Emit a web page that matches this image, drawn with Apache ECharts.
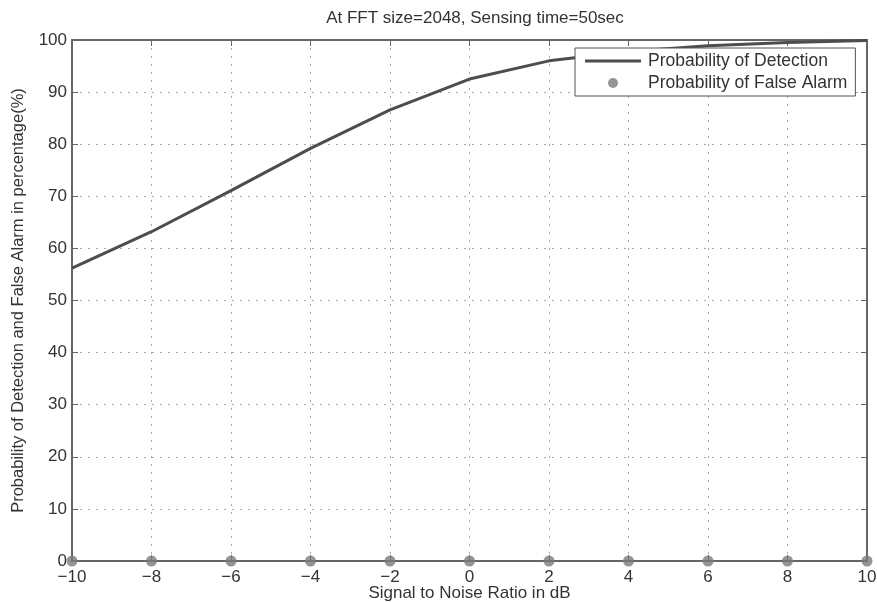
<!DOCTYPE html>
<html>
<head>
<meta charset="utf-8">
<script src="https://cdn.jsdelivr.net/npm/echarts@6/dist/echarts.min.js"></script>
<style>
  html, body { margin: 0; padding: 0; background: #fff; }
  #chart { width: 877px; height: 602px; }
</style>
</head>
<body>
<div id="chart"></div>
<script>
// 信噪比 (dB)
const snr = [-10, -8, -6, -4, -2, 0, 2, 4, 6, 8, 10];
// 检测概率 (%)
const detection = [56.2, 63.2, 71.1, 79.2, 86.6, 92.5, 96.0, 97.8, 98.9, 99.5, 99.9];
// 虚警概率 (%)
const falseAlarm = [0, 0, 0, 0, 0, 0, 0, 0, 0, 0, 0];

const font = 'Liberation Sans, Arial, sans-serif';
const axisColor = '#666';
const textColor = '#333';

const chart = echarts.init(document.getElementById('chart'));

function pairs(xs, ys) {
  return xs.map((x, i) => [x, ys[i]]);
}

const minus = v => String(v).replace('-', '\u2212');

// 四周都画坐标轴和向内的刻度，像 MATLAB 的 box on
const boxLine = { onZero: false, lineStyle: { color: axisColor, width: 2 } };
const boxTick = { show: true, inside: true, length: 6, lineStyle: { color: axisColor } };
const dotted = { show: true, lineStyle: { type: [2, 6], color: '#aaa', width: 1 } };

var option = {
  animation: false,
  title: {
    text: 'At FFT size=2048, Sensing time=50sec',
    left: 470,
    textAlign: 'center',
    top: 5,
    textStyle: { fontFamily: font, fontSize: 17, fontWeight: 'normal', color: textColor }
  },
  legend: {
    orient: 'vertical',
    left: 575,
    top: 48,
    padding: [4, 8, 4, 10],
    itemGap: 4,
    itemWidth: 56,
    itemHeight: 10,
    borderColor: '#555',
    borderWidth: 1,
    backgroundColor: '#fff',
    textStyle: { fontFamily: font, fontSize: 17.5, color: textColor, padding: [0, 0, 0, 2] },
    data: [
      { name: 'Probability of Detection', icon: 'path://M0,0H56V3H0Z', itemStyle: { color: '#4d4d4d' } },
      { name: 'Probability of False Alarm', icon: 'circle' }
    ]
  },
  grid: { left: 72, right: 10, top: 40, bottom: 41, outerBoundsMode: 'none' },
  xAxis: [
    {
      type: 'value',
      min: -10, max: 10, interval: 2,
      name: 'Signal to Noise Ratio in dB',
      nameLocation: 'middle',
      nameGap: 24,
      nameMoveOverlap: false,
      nameTextStyle: { fontFamily: font, fontSize: 17, color: textColor },
      axisLine: boxLine,
      axisTick: boxTick,
      axisLabel: { fontFamily: font, fontSize: 17, color: textColor, margin: 8, formatter: minus },
      splitLine: dotted
    },
    {
      type: 'value',
      position: 'top',
      min: -10, max: 10, interval: 2,
      axisLine: boxLine,
      axisTick: boxTick,
      axisLabel: { show: false },
      splitLine: { show: false }
    }
  ],
  yAxis: [
    {
      type: 'value',
      min: 0, max: 100, interval: 10,
      name: 'Probability of Detection and False Alarm in percentage(%)',
      nameLocation: 'middle',
      nameGap: 45,
      nameMoveOverlap: false,
      nameTextStyle: { fontFamily: font, fontSize: 16.5, color: textColor },
      axisLine: Object.assign({ show: true }, boxLine),
      axisTick: boxTick,
      axisLabel: { fontFamily: font, fontSize: 17, color: textColor, margin: 5 },
      splitLine: dotted
    },
    {
      type: 'value',
      position: 'right',
      min: 0, max: 100, interval: 10,
      axisLine: Object.assign({ show: true }, boxLine),
      axisTick: boxTick,
      axisLabel: { show: false },
      splitLine: { show: false }
    }
  ],
  series: [
    {
      name: 'Probability of Detection',
      type: 'line',
      data: pairs(snr, detection),
      showSymbol: false,
      symbol: 'none',
      lineStyle: { color: '#4d4d4d', width: 3 },
      itemStyle: { color: '#4d4d4d' },
      z: 3
    },
    {
      name: 'Probability of False Alarm',
      type: 'scatter',
      data: pairs(snr, falseAlarm),
      symbol: 'circle',
      symbolSize: 11,
      clip: false,
      itemStyle: { color: '#7a7a7a' },
      z: 4
    }
  ]
};

chart.setOption(option);
window.addEventListener('resize', () => {
  chart.resize();
});
</script>
</body>
</html>
